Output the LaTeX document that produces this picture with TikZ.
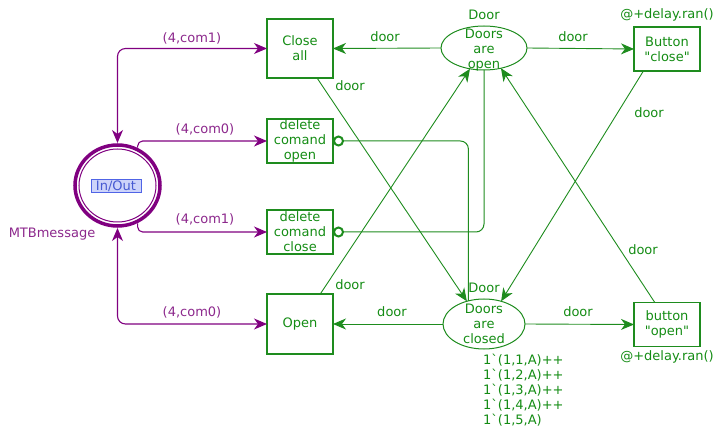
\documentclass[tikz,border=0pt]{standalone}
\usepackage{fontspec}
\setmainfont{DejaVu Sans}[Ligatures=TeXOff]
\usetikzlibrary{arrows.meta,shapes.geometric}
\definecolor{pgreen}{RGB}{20,140,20}
\definecolor{pline}{RGB}{30,140,30}
\definecolor{ppurple}{RGB}{128,0,128}
\definecolor{ptext}{RGB}{140,40,140}
\definecolor{hlfill}{RGB}{205,212,250}
\definecolor{hlline}{RGB}{80,100,230}
\definecolor{hltext}{RGB}{70,90,210}
\begin{document}
\begin{tikzpicture}[x=1pt,y=-1pt,
  font=\fontsize{13}{15}\selectfont,
  trans/.style={draw=pline, line width=1.3pt, minimum width=66pt, inner sep=0pt, outer sep=0pt, align=center, text=pgreen},
  place/.style={draw=pline, line width=1pt, ellipse, inner sep=0pt, outer sep=0pt},
  ptxt/.style={align=center, text=pgreen, inner sep=0pt},
  glab/.style={text=pgreen, inner sep=0pt},
  plab/.style={text=ptext, inner sep=0pt},
  garc/.style={draw=pline, line width=0.9pt, -{Stealth[length=13pt,width=11pt,inset=4pt]}},
  parc/.style={draw=ppurple, line width=1.1pt, rounded corners=8pt},
  inhib/.style={draw=pline, line width=1pt, rounded corners=8pt, {Circle[open,length=11pt,width=11pt,line width=2pt]}-},
]
\useasboundingbox (0,0) rectangle (716,433);

% transitions
\node[trans, minimum height=59pt] (closeall) at (300,48.5) {Close\\all};
\node[trans, minimum height=44pt] (delop) at (300,141) {delete\\comand\\open};
\node[trans, minimum height=44pt] (delcl) at (300,232) {delete\\comand\\close};
\node[trans, minimum height=60pt] (open) at (300,324) {Open};
\node[trans, minimum height=44pt] (bclose) at (667,49) {Button\\"close"};
\node[trans, minimum height=44pt] (bopen) at (667,324.5) {button\\"open"};

% places
\node[place, minimum width=86pt, minimum height=44pt] (dopen) at (484,48) {};
\node[ptxt] (dopentxt) at (484,50) {Doors\\are\\open};
\node[place, minimum width=82pt, minimum height=50pt] (dclosed) at (484,324) {};
\node[ptxt] (dclosedtxt) at (484,324) {Doors\\are\\closed};

% In/Out place
\node[ellipse, minimum width=89pt, minimum height=85pt, inner sep=0pt, outer sep=0pt] (inout) at (117.5,185.5) {};
\draw[ppurple, line width=3.5pt] (inout.center) ellipse [x radius=42.5, y radius=40.5];
\draw[ppurple, line width=1pt] (inout.center) ellipse [x radius=38.5, y radius=36.5];
\node[draw=hlline, fill=hlfill, text=hltext, line width=0.8pt, inner sep=1pt, minimum width=50pt, minimum height=13pt] (iolab) at (116,186) {In/Out};
\node[plab] (mtb) at (52,234) {MTBmessage};

% place labels
\node[glab] (ldoor1) at (484,15) {Door};
\node[glab] (ldoor2) at (484,288) {Door};
\node[glab] (ldel1) at (667,15) {@+delay.ran()};
\node[glab] (ldel2) at (667,357) {@+delay.ran()};
\node[glab, anchor=north west, align=left] (mark) at (483,354) {1`(1,1,A)++\\1`(1,2,A)++\\1`(1,3,A)++\\1`(1,4,A)++\\1`(1,5,A)};

% green arcs
\draw[garc] (dopen.west) -- (closeall.east);
\draw[garc] (dopen.east) -- (bclose.west);
\draw[garc] (dclosed.west) -- (open.east);
\draw[garc] (dclosed.east) -- (bopen.west);
\draw[garc] (closeall.-60) -- (dclosed.127);
\draw[garc] (open.56) -- (dopen.-124);
\draw[garc] (bclose.-137.5) -- (dclosed.53);
\draw[garc] (bopen.119) -- (dopen.-50);

% inhibitor arcs
\draw[inhib] (delop.east) -| (dclosed.124.5);
\draw[inhib] (delcl.east) -| (dopen.south);

% purple arcs
\draw[parc, {Stealth[length=13pt,width=11pt,inset=4pt]}-{Stealth[length=13pt,width=11pt,inset=4pt]}] (inout.north) |- (closeall.west);
\draw[parc, rounded corners=5pt, -{Stealth[length=13pt,width=11pt,inset=4pt]}] (inout.62) |- (delop.west);
\draw[parc, rounded corners=5pt, -{Stealth[length=13pt,width=11pt,inset=4pt]}] (inout.-62) |- (delcl.west);
\draw[parc, {Stealth[length=13pt,width=11pt,inset=4pt]}-{Stealth[length=13pt,width=11pt,inset=4pt]}] (inout.south) |- (open.west);

% arc labels
\node[plab] (l1) at (192,38) {(4,com1)};
\node[plab] (l2) at (205,129) {(4,com0)};
\node[plab] (l3) at (205,219) {(4,com1)};
\node[plab] (l4) at (192,312) {(4,com0)};
\node[glab] (d1) at (385,37) {door};
\node[glab] (d2) at (573,37) {door};
\node[glab] (d3) at (350,86) {door};
\node[glab] (d4) at (350,285) {door};
\node[glab] (d5) at (649,113) {door};
\node[glab] (d6) at (643,250) {door};
\node[glab] (d7) at (392,312) {door};
\node[glab] (d8) at (578,312) {door};
\end{tikzpicture}
\end{document}
